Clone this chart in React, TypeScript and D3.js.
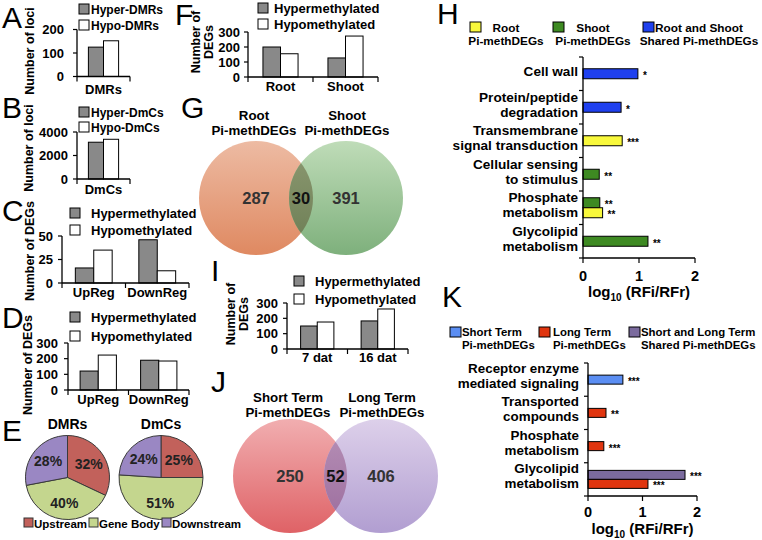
import React from "react";
import * as d3 from "d3";

const FONT = "'Liberation Sans', Arial, Helvetica, sans-serif";
const GRAY = "#898989";

// ---------- Panel A ----------
const dmrSeries = ["Hyper-DMRs", "Hypo-DMRs"];
const dmrCategories = ["DMRs"];
const dmrHyper = [125];
const dmrHypo = [152];
const dmrTicks = [0, 100, 200];
// ---------- Panel B ----------
const dmcSeries = ["Hyper-DmCs", "Hypo-DmCs"];
const dmcCategories = ["DmCs"];
const dmcHyper = [3130];
const dmcHypo = [3380];
const dmcTicks = [0, 2000, 4000];
// ---------- Panels C, D, F, I ----------
const methSeries = ["Hypermethylated", "Hypomethylated"];
const regCategories = ["UpReg", "DownReg"];
const regHyperC = [16, 46];
const regHypoC = [35, 13];
const regTicksC = [0, 25, 50];
const regHyperD = [121, 190];
const regHypoD = [223, 185];
const tissueCategories = ["Root", "Shoot"];
const tissueHyper = [200, 127];
const tissueHypo = [155, 273];
const timeCategories = ["7 dat", "16 dat"];
const timeHyper = [150, 183];
const timeHypo = [176, 261];
const degTicks = [0, 100, 200, 300];
// ---------- Panel E ----------
const regionLabels = ["Upstream", "Gene Body", "Downstream"];
const dmrRegionPct = [32, 40, 28];
const dmcRegionPct = [25, 51, 24];
const regionColors = ["#c2615b", "#c4d68e", "#9a87c3"];
// ---------- Panels G, J ----------
const vennGTitles = [["Root", "Pi-methDEGs"], ["Shoot", "Pi-methDEGs"]];
const vennGCounts = [287, 30, 391];
const vennJTitles = [["Short Term", "Pi-methDEGs"], ["Long Term", "Pi-methDEGs"]];
const vennJCounts = [250, 52, 406];
// ---------- Panel H ----------
const hSeries = [["Root", "Pi-methDEGs"], ["Shoot", "Pi-methDEGs"], ["Root and Shoot", "Shared Pi-methDEGs"]];
const hColors = ["#f8f83c", "#3e8a22", "#1f40ee"];
const hCategories = [["Cell wall"], ["Protein/peptide", "degradation"], ["Transmembrane", "signal transduction"], ["Cellular sensing", "to stimulus"], ["Phosphate", "metabolism"], ["Glycolipid", "metabolism"]];
const hBarCategory = [0, 1, 2, 3, 4, 4, 5];
const hBarSeries = [2, 2, 0, 1, 1, 0, 1];
const hBarValues = [0.98, 0.68, 0.7, 0.29, 0.3, 0.35, 1.16];
const hBarStars = ["*", "*", "***", "**", "**", "**", "**"];
// ---------- Panel K ----------
const kSeries = [["Short Term", "Pi-methDEGs"], ["Long Term", "Pi-methDEGs"], ["Short and Long Term", "Shared Pi-methDEGs"]];
const kColors = ["#5b8ef3", "#e0350f", "#7b6b9e"];
const kCategories = [["Receptor enzyme", "mediated signaling"], ["Transported", "compounds"], ["Phosphate", "metabolism"], ["Glycolipid", "metabolism"]];
const kBarCategory = [0, 1, 2, 3, 3];
const kBarSeries = [0, 1, 1, 2, 1];
const kBarValues = [0.64, 0.33, 0.29, 1.78, 1.1];
const kBarStars = ["***", "**", "***", "***", "***"];
const logTicks = [0, 1, 2];

function Letter({ x, y, t }: any) {
  return (
    <text x={x} y={y} fontSize={30} fontWeight="normal" fontFamily={FONT}>
      {t}
    </text>
  );
}

function VBars(p: any) {
  const { cats, hyper, hypo, yMax, ticks, x0, x1, yTop, yBot, frac, labelGap, tickGap } = p;
  const y = d3.scaleLinear().domain([0, yMax]).range([yBot, yTop]);
  const xb = d3.scaleBand<string>().domain(cats).range([x0, x1]);
  const gw = xb.bandwidth() * frac;
  const xs = d3.scaleBand<number>().domain([0, 1]).range([0, gw]);
  const series = [hyper, hypo];
  const fills = [GRAY, "#ffffff"];
  const bounds = [x0, ...cats.map((c: string) => xb(c)! + xb.bandwidth())];
  return (
    <g>
      {cats.map((c: string, i: number) => {
        const gx = xb(c)! + (xb.bandwidth() - gw) / 2;
        return (
          <g key={c}>
            {series.map((s: number[], k: number) => (
              <rect key={k} x={gx + xs(k)!} y={y(s[i])} width={xs.bandwidth()} height={y(0) - y(s[i])} fill={fills[k]} stroke="#000" strokeWidth={1} />
            ))}
            <text x={xb(c)! + xb.bandwidth() / 2} y={yBot + labelGap} textAnchor="middle" fontSize={13} fontWeight="bold">
              {c}
            </text>
          </g>
        );
      })}
      <line x1={x0} x2={x0} y1={yTop} y2={yBot} stroke="#000" strokeWidth={1.3} />
      <line x1={x0} x2={x1} y1={yBot} y2={yBot} stroke="#000" strokeWidth={1.3} />
      {bounds.map((bx: number, i: number) => (
        <line key={i} x1={bx} x2={bx} y1={yBot} y2={yBot + 5} stroke="#000" strokeWidth={1.2} />
      ))}
      {ticks.map((t: number) => (
        <g key={t}>
          <line x1={x0 - 4} x2={x0} y1={y(t)} y2={y(t)} stroke="#000" strokeWidth={1.2} />
          <text x={x0 - tickGap} y={y(t)} dy="0.36em" textAnchor="end" fontSize={13} fontWeight="bold">
            {t}
          </text>
        </g>
      ))}
    </g>
  );
}

function SquareLegend({ x, ys, labels, textX, fills, size = 10, fontSize = 13 }: any) {
  return (
    <g>
      {labels.map((l: string, i: number) => (
        <g key={l}>
          <rect x={x} y={ys[i]} width={size} height={size} fill={fills[i]} stroke="#000" strokeWidth={1} />
          <text x={textX} y={ys[i] + size} fontSize={fontSize} fontWeight="bold">
            {l}
          </text>
        </g>
      ))}
    </g>
  );
}

function RotTitle({ x, y, lines, gap = 13.5, size = 12.5 }: any) {
  return (
    <g>
      {lines.map((l: string, i: number) => (
        <text key={i} transform={`translate(${x + i * gap},${y}) rotate(-90)`} textAnchor="middle" fontSize={size} fontWeight="bold">
          {l}
        </text>
      ))}
    </g>
  );
}

function Pie({ cx, cy, r, values, title }: any) {
  const pie = d3.pie<number>().sort(null).value((d) => d);
  const arcs = pie(values);
  const arc = d3.arc<d3.PieArcDatum<number>>().innerRadius(0).outerRadius(r);
  const labelArc = d3.arc<d3.PieArcDatum<number>>().innerRadius(r * 0.6).outerRadius(r * 0.6);
  return (
    <g transform={`translate(${cx},${cy})`}>
      {arcs.map((a, i) => (
        <path key={i} d={arc(a)!} fill={regionColors[i]} stroke="#3a3a3a" strokeWidth={1} />
      ))}
      {arcs.map((a, i) => {
        const [lx, ly] = labelArc.centroid(a);
        return (
          <text key={"t" + i} x={lx} y={ly} dy="0.36em" textAnchor="middle" fontSize={14} fontWeight="bold" fill="#222">
            {values[i]}%
          </text>
        );
      })}
      <text x={0} y={-r - 7} textAnchor="middle" fontSize={14} fontWeight="bold">
        {title}
      </text>
    </g>
  );
}

function Venn({ id, c1, c2, cy, r, counts, titles, titleY, cols }: any) {
  return (
    <g>
      <defs>
        {["l", "r", "o"].map((k, i) => (
          <linearGradient key={k} id={`${id}-${k}`} x1="0" y1="0" x2="0" y2="1">
            <stop offset="0" stopColor={cols[i][0]} />
            <stop offset="1" stopColor={cols[i][1]} />
          </linearGradient>
        ))}
        <clipPath id={`${id}-clip`}>
          <circle cx={c1} cy={cy} r={r} />
        </clipPath>
      </defs>
      <circle cx={c1} cy={cy} r={r} fill={`url(#${id}-l)`} />
      <circle cx={c2} cy={cy} r={r} fill={`url(#${id}-r)`} />
      <circle cx={c2} cy={cy} r={r} fill={`url(#${id}-o)`} clipPath={`url(#${id}-clip)`} />
      {[c1, (c1 + c2) / 2, c2].map((x: number, i: number) => (
        <text key={i} x={x} y={cy} dy="0.36em" textAnchor="middle" fontSize={16.5} fontWeight="bold" fill={i === 1 ? "#111" : "#333"}>
          {counts[i]}
        </text>
      ))}
      {titles.map((lines: string[], j: number) =>
        lines.map((l: string, i: number) => (
          <text key={j + "-" + i} x={j === 0 ? c1 - 2 : c2 + 1} y={titleY + i * 15} textAnchor="middle" fontSize={13.3} fontWeight="bold">
            {l}
          </text>
        ))
      )}
    </g>
  );
}

function HBars(p: any) {
  const { cats, barCat, barSeries, values, stars, colors, x0, x1, yTop, yBot, barH, labelX, labelShift, tickLabelGap, titleGap, labelSize } = p;
  const x = d3.scaleLinear().domain([0, 2]).range([x0, x1]);
  const yb = d3.scaleBand<number>().domain(cats.map((_: any, i: number) => i)).range([yTop, yBot]);
  const bounds = [yTop, ...cats.map((_: any, i: number) => yb(i)! + yb.bandwidth())];
  const titleX = (x0 + x1) / 2;
  return (
    <g>
      {cats.map((lines: string[], ci: number) => {
        const idx = values.map((_: number, i: number) => i).filter((i: number) => barCat[i] === ci);
        const center = yb(ci)! + yb.bandwidth() / 2;
        const start = center - (idx.length * barH) / 2;
        const lc = center + labelShift;
        return (
          <g key={ci}>
            {idx.map((bi: number, k: number) => (
              <g key={bi}>
                <rect x={x0} y={start + k * barH} width={x(values[bi]) - x0} height={barH} fill={colors[barSeries[bi]]} stroke="#000" strokeWidth={1} />
                <text x={x(values[bi]) + 5} y={start + k * barH + barH / 2 + 5.5} fontSize={10} fontWeight="bold">
                  {stars[bi]}
                </text>
              </g>
            ))}
            {lines.map((l: string, li: number) => (
              <text key={li} x={labelX} y={lc - ((lines.length - 1) * 15) / 2 + li * 15 + 5} textAnchor="end" fontSize={labelSize} fontWeight="bold">
                {l}
              </text>
            ))}
          </g>
        );
      })}
      <line x1={x0} x2={x0} y1={yTop} y2={yBot} stroke="#000" strokeWidth={1.3} />
      {bounds.map((b: number, i: number) => (
        <line key={i} x1={x0 - 4} x2={x0} y1={b} y2={b} stroke="#000" strokeWidth={1.2} />
      ))}
      <line x1={x0} x2={x1} y1={yBot} y2={yBot} stroke="#000" strokeWidth={1.3} />
      {logTicks.map((t) => (
        <g key={t}>
          <line x1={x(t)} x2={x(t)} y1={yBot} y2={yBot + 5} stroke="#000" strokeWidth={1.2} />
          <text x={x(t)} y={yBot + tickLabelGap} textAnchor="middle" fontSize={14.5} fontWeight="bold">
            {t}
          </text>
        </g>
      ))}
      <text x={titleX} y={yBot + titleGap} textAnchor="middle" fontSize={15} fontWeight="bold">
        log<tspan fontSize={10} dy={4}>10</tspan>
        <tspan dy={-4}> (RFi/RFr)</tspan>
      </text>
    </g>
  );
}

function HLegend({ items, xs, sqX, sqY, colors, lineY, align, fontSize }: any) {
  return (
    <g>
      {items.map((lines: string[], i: number) => (
        <g key={i}>
          <rect x={sqX[i]} y={sqY} width={11} height={10} fill={colors[i]} stroke="#000" strokeWidth={1} />
          {lines.map((l: string, li: number) => (
            <text key={li} x={xs[i]} y={lineY + li * 13} textAnchor={align} fontSize={fontSize} fontWeight="bold">
              {l}
            </text>
          ))}
        </g>
      ))}
    </g>
  );
}

export default function App() {
  const pieLegendSquares = [24, 89, 162];
  return (
    <svg width={762} height={540} style={{ position: "absolute", left: 0, top: 0, background: "#fff" }} fontFamily={FONT}>
      <rect width={762} height={540} fill="#fff" />
      {/* A */}
      <Letter x={2} y={28} t="A" />
      <SquareLegend x={79} ys={[4, 20]} labels={dmrSeries} textX={91} fills={[GRAY, "#fff"]} fontSize={12} />
      <RotTitle x={34} y={51} lines={["Number of loci"]} />
      <VBars cats={dmrCategories} hyper={dmrHyper} hypo={dmrHypo} yMax={200} ticks={dmrTicks} x0={77} x1={130} yTop={29.5} yBot={76.5} frac={0.57} labelGap={17} tickGap={13} />
      {/* B */}
      <Letter x={2} y={118} t="B" />
      <SquareLegend x={79} ys={[107, 122]} labels={dmcSeries} textX={91} fills={[GRAY, "#fff"]} fontSize={12} />
      <RotTitle x={33} y={148} lines={["Number of loci"]} />
      <VBars cats={dmcCategories} hyper={dmcHyper} hypo={dmcHypo} yMax={4000} ticks={dmcTicks} x0={77} x1={130} yTop={132} yBot={179} frac={0.57} labelGap={15} tickGap={9} />
      {/* C */}
      <Letter x={2} y={221} t="C" />
      <SquareLegend x={70} ys={[208, 225]} labels={methSeries} textX={91} fills={[GRAY, "#fff"]} />
      <RotTitle x={33.5} y={251} lines={["Number of DEGs"]} />
      <VBars cats={regCategories} hyper={regHyperC} hypo={regHypoC} yMax={50} ticks={regTicksC} x0={62} x1={189} yTop={236} yBot={283} frac={0.58} labelGap={14} tickGap={9} />
      {/* D */}
      <Letter x={2} y={328} t="D" />
      <SquareLegend x={70} ys={[312, 331]} labels={methSeries} textX={91} fills={[GRAY, "#fff"]} />
      <RotTitle x={32} y={365} lines={["Number of DEGs"]} />
      <VBars cats={regCategories} hyper={regHyperD} hypo={regHypoD} yMax={300} ticks={degTicks} x0={68} x1={189} yTop={343} yBot={390} frac={0.6} labelGap={14} tickGap={10} />
      {/* E */}
      <Letter x={2} y={441} t="E" />
      <Pie cx={67.5} cy={477.5} r={42} values={dmrRegionPct} title="DMRs" />
      <Pie cx={161} cy={477.5} r={42} values={dmcRegionPct} title="DmCs" />
      {regionLabels.map((l, i) => (
        <g key={l}>
          <rect x={pieLegendSquares[i]} y={518} width={9} height={9} fill={regionColors[i]} stroke="#333" strokeWidth={1} />
          <text x={pieLegendSquares[i] + 10} y={527.5} fontSize={11.5} fontWeight="bold">
            {l}
          </text>
        </g>
      ))}
      {/* F */}
      <Letter x={175} y={25} t="F" />
      <SquareLegend x={258} ys={[3, 19]} labels={methSeries} textX={274} fills={[GRAY, "#fff"]} />
      <RotTitle x={199.5} y={42} lines={["Number of", "DEGs"]} gap={13} />
      <VBars cats={tissueCategories} hyper={tissueHyper} hypo={tissueHypo} yMax={300} ticks={degTicks} x0={248} x1={378} yTop={32} yBot={77} frac={0.54} labelGap={14} tickGap={8} />
      {/* G */}
      <Letter x={181} y={118} t="G" />
      <Venn id="vg" c1={256} c2={346} cy={198} r={57} counts={vennGCounts} titles={vennGTitles} titleY={120} cols={[["#edbba3", "#df8961"], ["#bfdcb8", "#7eb07c"], ["#8d9a72", "#6b7c53"]]} />
      {/* I */}
      <Letter x={211} y={281} t="I" />
      <SquareLegend x={294} ys={[276, 294]} labels={methSeries} textX={315} fills={[GRAY, "#fff"]} />
      <RotTitle x={234.5} y={314} lines={["Number of", "DEGs"]} gap={13} />
      <VBars cats={timeCategories} hyper={timeHyper} hypo={timeHypo} yMax={300} ticks={degTicks} x0={287} x1={408} yTop={303} yBot={349} frac={0.55} labelGap={13} tickGap={9} />
      {/* J */}
      <Letter x={211} y={392} t="J" />
      <Venn id="vj" c1={290} c2={381} cy={476} r={57} counts={vennJCounts} titles={vennJTitles} titleY={402} cols={[["#f1aeb0", "#df6266"], ["#ddd0ea", "#b19ed1"], ["#b892b8", "#9a6b9c"]]} />
      {/* H */}
      <Letter x={437} y={24} t="H" />
      <HLegend items={hSeries} xs={[506, 593, 699]} sqX={[470, 553, 643]} sqY={22} colors={hColors} lineY={32} align="middle" fontSize={11.8} />
      <HBars cats={hCategories} barCat={hBarCategory} barSeries={hBarSeries} values={hBarValues} stars={hBarStars} colors={hColors} x0={583} x1={695} yTop={57} yBot={258} barH={10} labelX={578} labelShift={-3} tickLabelGap={23} titleGap={39} labelSize={13.6} />
      {/* K */}
      <Letter x={442} y={307} t="K" />
      <HLegend items={kSeries} xs={[462, 553, 641]} sqX={[450, 539, 629]} sqY={327} colors={kColors} lineY={336} align="start" fontSize={11.4} />
      <HBars cats={kCategories} barCat={kBarCategory} barSeries={kBarSeries} values={kBarValues} stars={kBarStars} colors={kColors} x0={588} x1={697} yTop={363} yBot={496} barH={9} labelX={579} labelShift={-4} tickLabelGap={21} titleGap={38} labelSize={13.4} />
    </svg>
  );
}
